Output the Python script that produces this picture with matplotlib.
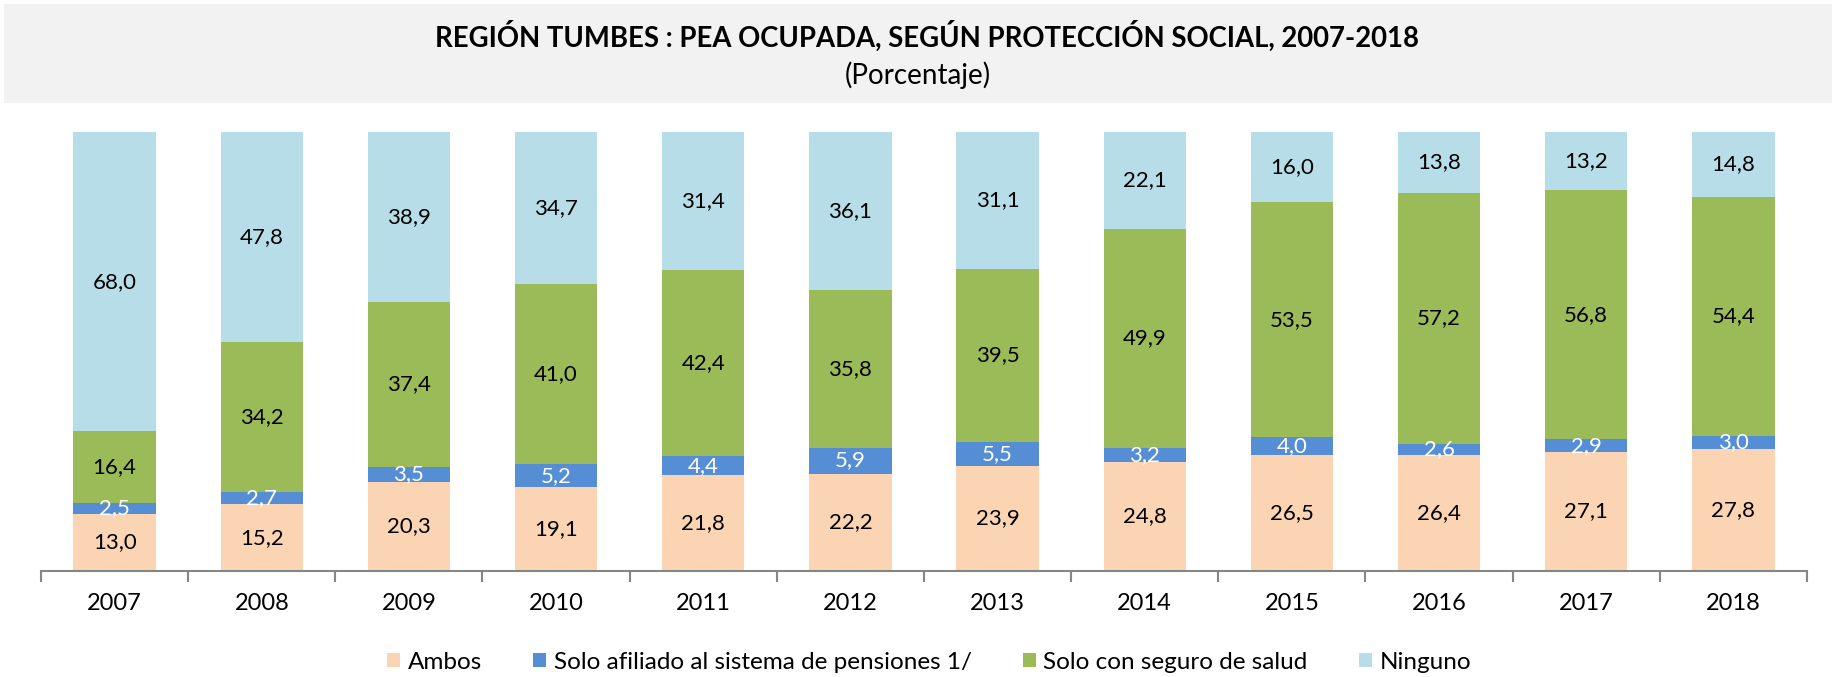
import numpy as np
import matplotlib.pyplot as plt
from matplotlib.patches import Rectangle

years = ['2007', '2008', '2009', '2010', '2011', '2012', '2013', '2014', '2015', '2016', '2017', '2018']
ambos = [13.0, 15.2, 20.3, 19.1, 21.8, 22.2, 23.9, 24.8, 26.5, 26.4, 27.1, 27.8]
pensiones = [2.5, 2.7, 3.5, 5.2, 4.4, 5.9, 5.5, 3.2, 4.0, 2.6, 2.9, 3.0]
salud = [16.4, 34.2, 37.4, 41.0, 42.4, 35.8, 39.5, 49.9, 53.5, 57.2, 56.8, 54.4]
ninguno = [68.0, 47.8, 38.9, 34.7, 31.4, 36.1, 31.1, 22.1, 16.0, 13.8, 13.2, 14.8]

series = [
    ("Ambos", ambos, "#FBD4B4", "black"),
    ("Solo afiliado al sistema de pensiones 1/", pensiones, "#558ED5", "white"),
    ("Solo con seguro de salud", salud, "#9BBB59", "black"),
    ("Ninguno", ninguno, "#B7DEE8", "black"),
]

plt.rcParams['font.family'] = ['Lato', 'DejaVu Sans']

fig = plt.figure(figsize=(18.36, 6.77), dpi=100)
fig.patches.append(Rectangle((0.002, 0.848), 0.996, 0.146, transform=fig.transFigure,
                             facecolor="#F2F2F2", edgecolor="none", zorder=0))
fig.text(0.505, 0.947, "REGIÓN TUMBES : PEA OCUPADA, SEGÚN PROTECCIÓN SOCIAL, 2007-2018",
         ha='center', va='center', fontsize=19.8, fontweight='bold')
fig.text(0.5, 0.889, "(Porcentaje)", ha='center', va='center', fontsize=20)

ax = fig.add_axes([41 / 1836, 1 - 571 / 677, (1807 - 41) / 1836, 439 / 677])
x = np.arange(len(years))
bottom = np.zeros(len(years))
handles = []
for name, vals, color, tcolor in series:
    vals = np.array(vals)
    b = ax.bar(x, vals, 0.56, bottom=bottom, color=color, label=name)
    handles.append(b)
    for xi, v, bt in zip(x, vals, bottom):
        ax.text(xi, bt + v / 2, f"{v:.1f}".replace('.', ','), ha='center', va='center',
                fontsize=16, color=tcolor)
    bottom += vals

ax.set_xlim(-0.5, len(years) - 0.5)
ax.set_ylim(0, 100)
ax.set_yticks([])
for s in ['top', 'right', 'left']:
    ax.spines[s].set_visible(False)
ax.spines['bottom'].set_color('#868686')
ax.spines['bottom'].set_linewidth(1.5)
ax.set_xticks(x)
ax.set_xticklabels(years, fontsize=17)
ax.tick_params(axis='x', which='major', length=0, pad=16)
ax.set_xticks(np.arange(-0.5, len(years)), minor=True)
ax.tick_params(axis='x', which='minor', length=8, width=1.5, color='#868686')

fig.legend(handles=handles, loc='center', bbox_to_anchor=(0.506, 0.022), ncol=4,
           frameon=False, fontsize=17.5, handlelength=0.55, handleheight=0.55,
           handletextpad=0.3, columnspacing=2.1)

fig.savefig('out.png', dpi=100)
